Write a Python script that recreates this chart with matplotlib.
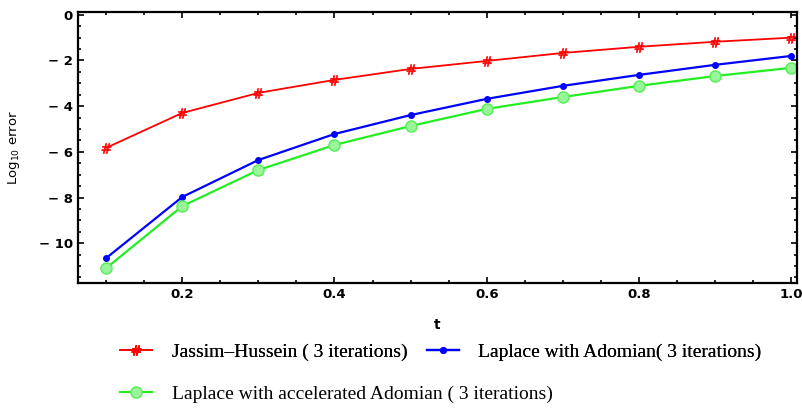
import numpy as np
import matplotlib.pyplot as plt
from matplotlib.ticker import MultipleLocator

# values
t = [0.1, 0.2, 0.3, 0.4, 0.5, 0.6, 0.7, 0.8, 0.9, 1.0]
jassim = [-5.83, -4.30, -3.42, -2.85, -2.37, -2.02, -1.67, -1.40, -1.18, -1.00]
laplace = [-10.66, -7.98, -6.36, -5.22, -4.39, -3.68, -3.11, -2.63, -2.19, -1.80]
accel = [-11.10, -8.38, -6.80, -5.70, -4.87, -4.12, -3.60, -3.11, -2.68, -2.32]

labels = ["Jassim\u2013Hussein ( 3 iterations)",
          "Laplace with Adomian( 3 iterations)",
          "Laplace with accelerated Adomian ( 3 iterations)"]

fig = plt.figure(figsize=(8.02, 4.08), dpi=100)
ax = fig.add_axes([0.097, 0.306, 0.8965, 0.665])

l1, = ax.plot(t, jassim, color='red', lw=1.3, marker=r'$\#$', ms=7, mew=0.5)
l2, = ax.plot(t, laplace, color='blue', lw=1.6, marker='o', ms=4)
l3, = ax.plot(t, accel, color='#22ee22', lw=1.6, marker='o', ms=8,
              mfc='#99f599', mec='#55ee55')

ax.set_xlim(0.063, 1.007)
ax.set_ylim(-11.75, 0.13)
ax.xaxis.set_major_locator(MultipleLocator(0.2))
ax.xaxis.set_minor_locator(MultipleLocator(0.05))
ax.yaxis.set_major_locator(MultipleLocator(2))
ax.yaxis.set_minor_locator(MultipleLocator(0.5))
ax.tick_params(which='both', direction='in', top=True, right=True, width=1.2)
ax.tick_params(which='major', length=4)
ax.tick_params(which='minor', length=2.5)
for lab in ax.get_xticklabels() + ax.get_yticklabels():
    lab.set_fontweight('bold')
    lab.set_fontsize(9.5)
for s in ax.spines.values():
    s.set_linewidth(1.6)
ax.xaxis.set_major_formatter(plt.FuncFormatter(lambda v, p: f"{v:.1f}"))
ax.yaxis.set_major_formatter(plt.FuncFormatter(
    lambda v, p: "0" if v == 0 else f"\u2212 {abs(int(v))}"))

ax.set_xlabel("t", fontweight='bold', fontsize=10, labelpad=12)
ax.set_ylabel(r"Log$_{10}$ error", fontsize=9.5, labelpad=12)

leg_kw = dict(loc='center left', frameon=False, borderpad=0, borderaxespad=0,
              prop={'family': 'Liberation Serif', 'size': 14},
              handlelength=1.65, handletextpad=1.0, columnspacing=1.0)
leg1 = fig.legend([l1, l2], [labels[0], labels[1]], ncol=2,
                  bbox_to_anchor=(120 / 802, 1 - 352 / 408), **leg_kw)
fig.add_artist(leg1)
fig.legend([l3], [labels[2]], bbox_to_anchor=(120 / 802, 1 - 394 / 408), **leg_kw)

fig.savefig("out.png", dpi=100)
